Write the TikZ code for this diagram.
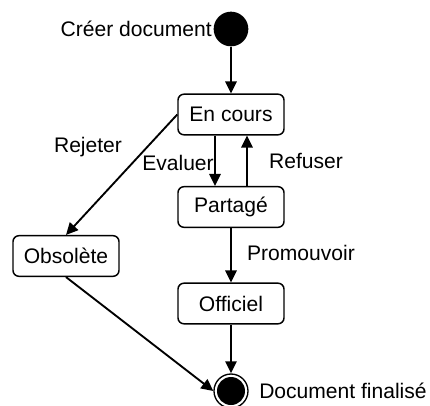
\documentclass[tikz,border=0pt]{standalone}
\usepackage{fontspec}
\setmainfont{Liberation Sans}
\usetikzlibrary{arrows.meta}
\begin{document}
\begin{tikzpicture}[x=0.75pt,y=-0.75pt,
  font=\fontsize{15.8}{18}\selectfont,
  statebox/.style={draw,line width=1.1pt,rounded corners=4.5pt,minimum width=79.5pt,minimum height=30.5pt,inner sep=0pt},
  lbl/.style={inner sep=0pt},
  conn/.style={line width=1.4pt,-{Triangle[length=9pt,width=8.5pt]}}]
\useasboundingbox (0,0) rectangle (430,405);
\node[circle,fill=black,minimum size=26pt,inner sep=0pt] (init) at (231,29) {};
\node[lbl,anchor=east] (initlbl) at (212,29) {Créer document};
\node[statebox] (enc) at (231,114.5) {En cours};
\node[statebox] (par) at (231,207) {Partagé};
\node[statebox] (off) at (231,303.5) {Officiel};
\node[statebox] (obs) at (66,256) {Obsolète};
\node[circle,draw,line width=1pt,minimum size=25.5pt,inner sep=0pt] (fin) at (231,391) {};
\node[circle,fill=black,minimum size=21pt,inner sep=0pt] (fininner) at (231,391) {};
\node[lbl,anchor=west] (finlbl) at (259,391) {Document finalisé};
\node[lbl] (rej) at (88,147) {Rejeter};
\node[lbl] (eva) at (178,163) {Evaluer};
\node[lbl] (ref) at (306,161) {Refuser};
\node[lbl] (pro) at (301,253) {Promouvoir};
\draw[conn] (init) -- (enc);
\draw[conn] (enc.west) -- (obs.north);
\draw[conn] ([xshift=-12pt]enc.south) -- ([xshift=-12pt]par.north);
\draw[conn] ([xshift=12pt]par.north) -- ([xshift=12pt]enc.south);
\draw[conn] (par) -- (off);
\draw[conn] (off) -- (fin);
\draw[conn] (obs.south) -- (fin.west);
\end{tikzpicture}
\end{document}
